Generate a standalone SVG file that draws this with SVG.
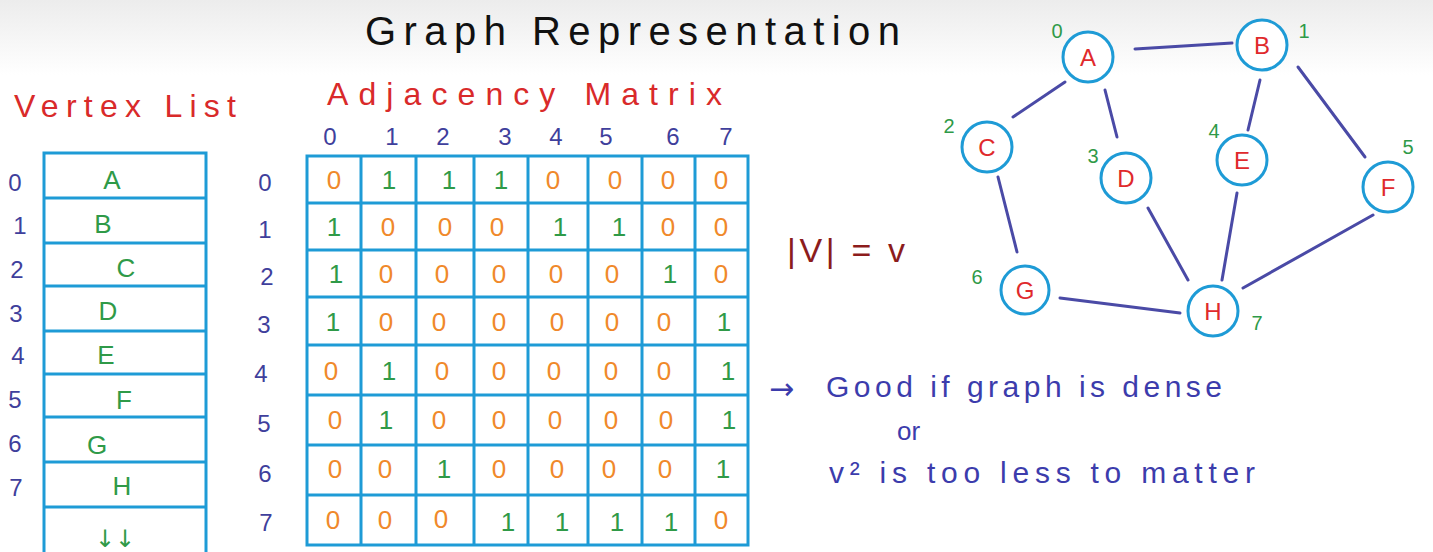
<svg xmlns="http://www.w3.org/2000/svg" width="1433" height="552" viewBox="0 0 1433 552">
<defs>
<linearGradient id="topbg" x1="0" y1="0" x2="0" y2="1">
<stop offset="0" stop-color="#ececec"/>
<stop offset="1" stop-color="#ffffff"/>
</linearGradient>
<style>
text{font-family:"Liberation Sans","DejaVu Sans",sans-serif;}
.grid{fill:none;stroke:#1e9bd6;stroke-width:3;}
.idx{fill:#3f3f9c;font-size:24px;text-anchor:middle;}
.vl{fill:#2f9a48;font-size:26px;text-anchor:middle;}
.one{fill:#2f9a48;font-size:26px;text-anchor:middle;}
.zero{fill:#f0892a;font-size:26px;text-anchor:middle;}
.title{fill:#d92a2a;font-size:32px;}
.node circle{fill:#ffffff;stroke:#1e9bd6;stroke-width:3;}
.node .lbl{fill:#e0292c;font-size:24px;text-anchor:middle;}
.node .num{fill:#2f9a48;font-size:20px;text-anchor:middle;}
.edge{stroke:#4a4aa6;stroke-width:3;stroke-linecap:round;}
.note{fill:#3c3cac;font-size:30px;}
</style>
</defs>
<rect x="0" y="0" width="1433" height="552" fill="#ffffff"/>
<rect x="0" y="0" width="1433" height="75" fill="url(#topbg)"/>

<text x="365" y="45" font-size="40" fill="#111" textLength="535" lengthAdjust="spacing">Graph Representation</text>

<!-- Vertex list -->
<g id="vertex-list">
<text class="title" x="14" y="117" textLength="222" lengthAdjust="spacing">Vertex List</text>
<path class="grid" d="M44,552 V153 H206 V552 M44,198 H206 M44,243 H206 M44,286 H206 M44,331 H206 M44,374 H206 M44,417 H206 M44,462 H206 M44,507 H206"/>
<g>
<text class="idx" x="15" y="191">0</text>
<text class="idx" x="20" y="234">1</text>
<text class="idx" x="17" y="278">2</text>
<text class="idx" x="16" y="322">3</text>
<text class="idx" x="18" y="364">4</text>
<text class="idx" x="15" y="408">5</text>
<text class="idx" x="15" y="452">6</text>
<text class="idx" x="16" y="496">7</text>
</g>
<g>
<text class="vl" x="112" y="189">A</text>
<text class="vl" x="103" y="233">B</text>
<text class="vl" x="126" y="277">C</text>
<text class="vl" x="108" y="320">D</text>
<text class="vl" x="106" y="364">E</text>
<text class="vl" x="124" y="409">F</text>
<text class="vl" x="97" y="454">G</text>
<text class="vl" x="122" y="495">H</text>
<text class="vl" x="115" y="547" style="font-size:24px;font-family:'DejaVu Sans',sans-serif;">↓↓</text>
</g>
</g>

<!-- Adjacency matrix -->
<g id="adjacency-matrix">
<text class="title" x="327" y="105" textLength="395" lengthAdjust="spacing">Adjacency Matrix</text>
<g>
<text class="idx" x="330" y="145">0</text>
<text class="idx" x="392" y="145">1</text>
<text class="idx" x="443" y="145">2</text>
<text class="idx" x="505" y="145">3</text>
<text class="idx" x="556" y="145">4</text>
<text class="idx" x="606" y="145">5</text>
<text class="idx" x="673" y="145">6</text>
<text class="idx" x="726" y="145">7</text>
</g>
<g>
<text class="idx" x="265" y="191">0</text>
<text class="idx" x="265" y="238">1</text>
<text class="idx" x="267" y="285">2</text>
<text class="idx" x="264" y="333">3</text>
<text class="idx" x="261" y="382">4</text>
<text class="idx" x="264" y="432">5</text>
<text class="idx" x="265" y="482">6</text>
<text class="idx" x="266" y="531">7</text>
</g>
<path class="grid" d="M307,156 H748 V545 H307 Z M361,156 V545 M416,156 V545 M474,156 V545 M528,156 V545 M588,156 V545 M642,156 V545 M695,156 V545 M307,203 H748 M307,250 H748 M307,297 H748 M307,345 H748 M307,395 H748 M307,445 H748 M307,495 H748"/>
<g>
<text class="zero" x="334" y="189">0</text><text class="one" x="389" y="189">1</text><text class="one" x="449" y="189">1</text><text class="one" x="501" y="189">1</text><text class="zero" x="553" y="189">0</text><text class="zero" x="615" y="189">0</text><text class="zero" x="668" y="189">0</text><text class="zero" x="721" y="189">0</text>
<text class="one" x="334" y="236">1</text><text class="zero" x="388" y="236">0</text><text class="zero" x="445" y="236">0</text><text class="zero" x="497" y="236">0</text><text class="one" x="560" y="236">1</text><text class="one" x="619" y="236">1</text><text class="zero" x="668" y="236">0</text><text class="zero" x="721" y="236">0</text>
<text class="one" x="336" y="283">1</text><text class="zero" x="386" y="283">0</text><text class="zero" x="442" y="283">0</text><text class="zero" x="499" y="283">0</text><text class="zero" x="556" y="283">0</text><text class="zero" x="612" y="283">0</text><text class="one" x="670" y="283">1</text><text class="zero" x="721" y="283">0</text>
<text class="one" x="333" y="331">1</text><text class="zero" x="386" y="331">0</text><text class="zero" x="439" y="331">0</text><text class="zero" x="499" y="331">0</text><text class="zero" x="557" y="331">0</text><text class="zero" x="612" y="331">0</text><text class="zero" x="664" y="331">0</text><text class="one" x="724" y="331">1</text>
<text class="zero" x="331" y="380">0</text><text class="one" x="389" y="380">1</text><text class="zero" x="442" y="380">0</text><text class="zero" x="499" y="380">0</text><text class="zero" x="554" y="380">0</text><text class="zero" x="611" y="380">0</text><text class="zero" x="664" y="380">0</text><text class="one" x="728" y="380">1</text>
<text class="zero" x="335" y="429">0</text><text class="one" x="386" y="429">1</text><text class="zero" x="439" y="429">0</text><text class="zero" x="499" y="429">0</text><text class="zero" x="555" y="429">0</text><text class="zero" x="611" y="429">0</text><text class="zero" x="666" y="429">0</text><text class="one" x="729" y="429">1</text>
<text class="zero" x="335" y="478">0</text><text class="zero" x="385" y="478">0</text><text class="one" x="444" y="478">1</text><text class="zero" x="499" y="478">0</text><text class="zero" x="557" y="478">0</text><text class="zero" x="609" y="478">0</text><text class="zero" x="665" y="478">0</text><text class="one" x="723" y="478">1</text>
<text class="zero" x="333" y="529">0</text><text class="zero" x="385" y="529">0</text><text class="zero" x="441" y="528">0</text><text class="one" x="508" y="531">1</text><text class="one" x="562" y="531">1</text><text class="one" x="617" y="531">1</text><text class="one" x="671" y="531">1</text><text class="zero" x="721" y="529">0</text>
</g>
</g>

<text x="787" y="262" font-size="34" fill="#8c1c1c" textLength="118" lengthAdjust="spacing">|V| = v</text>

<g id="notes">
<text class="note" x="769" y="399" style="font-size:30px;font-family:'DejaVu Sans',sans-serif;">→</text>
<text class="note" x="826" y="397" textLength="396" lengthAdjust="spacing">Good if graph is dense</text>
<text class="note" x="897" y="440" style="font-size:26px;">or</text>
<text class="note" x="829" y="483" textLength="426" lengthAdjust="spacing">v² is too less to matter</text>
</g>

<g id="connectors">
<line class="edge" x1="1135" y1="49" x2="1232" y2="43"/>
<line class="edge" x1="1065" y1="82" x2="1013" y2="117"/>
<line class="edge" x1="1105" y1="90" x2="1117" y2="137"/>
<line class="edge" x1="1260" y1="80" x2="1248" y2="130"/>
<line class="edge" x1="1298" y1="67" x2="1365" y2="157"/>
<line class="edge" x1="998" y1="177" x2="1017" y2="252"/>
<line class="edge" x1="1148" y1="208" x2="1188" y2="280"/>
<line class="edge" x1="1237" y1="193" x2="1222" y2="280"/>
<line class="edge" x1="1373" y1="215" x2="1243" y2="288"/>
<line class="edge" x1="1060" y1="298" x2="1180" y2="313"/>
</g>

<g id="node-A" class="node"><circle cx="1088" cy="57" r="25"/><text class="lbl" x="1088" y="66">A</text><text class="num" x="1057" y="38">0</text></g>
<g id="node-B" class="node"><circle cx="1262" cy="45" r="25"/><text class="lbl" x="1262" y="54">B</text><text class="num" x="1304" y="38">1</text></g>
<g id="node-C" class="node"><circle cx="987" cy="147" r="25"/><text class="lbl" x="987" y="156">C</text><text class="num" x="949" y="133">2</text></g>
<g id="node-D" class="node"><circle cx="1126" cy="178" r="25"/><text class="lbl" x="1126" y="187">D</text><text class="num" x="1093" y="163">3</text></g>
<g id="node-E" class="node"><circle cx="1242" cy="160" r="25"/><text class="lbl" x="1242" y="169">E</text><text class="num" x="1214" y="138">4</text></g>
<g id="node-F" class="node"><circle cx="1388" cy="187" r="25"/><text class="lbl" x="1388" y="196">F</text><text class="num" x="1408" y="154">5</text></g>
<g id="node-G" class="node"><circle cx="1025" cy="290" r="24"/><text class="lbl" x="1025" y="299">G</text><text class="num" x="977" y="284">6</text></g>
<g id="node-H" class="node"><circle cx="1213" cy="311" r="25"/><text class="lbl" x="1213" y="320">H</text><text class="num" x="1257" y="330">7</text></g>
</svg>
